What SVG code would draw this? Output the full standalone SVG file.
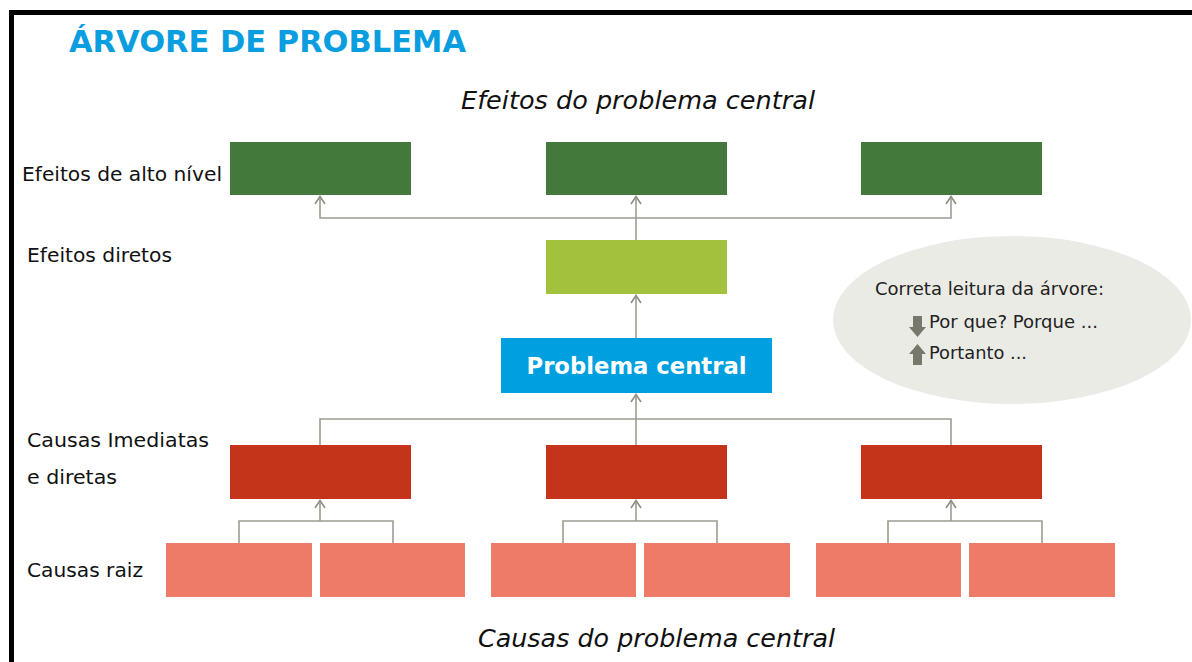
<svg xmlns="http://www.w3.org/2000/svg" width="1192" height="662" viewBox="0 0 1192 662">
<defs>
<style>
.lbl{font-family:"DejaVu Sans",Verdana,sans-serif;font-size:20px;fill:#111}
.it{font-family:"DejaVu Sans",Verdana,sans-serif;font-size:25px;font-style:italic;fill:#111}
.dg{fill:#437a3c}.lg{fill:#a2c13d}.rd{fill:#c4341a}.sa{fill:#ee7b67}
.con{fill:none;stroke:#9c9c90;stroke-width:1.6}
.note{font-family:"DejaVu Sans",Verdana,sans-serif;font-size:18px;fill:#222}
</style>
<marker id="ah" viewBox="0 0 12 12" refX="11" refY="6" markerWidth="12" markerHeight="12" markerUnits="userSpaceOnUse" orient="auto-start-reverse">
<path d="M3,1 L10.5,6 L3,11" fill="none" stroke="#8f8f83" stroke-width="1.6"/>
</marker>
</defs>
<rect x="0" y="0" width="1192" height="662" fill="#fff"/>
<g id="frame"><path d="M11.5,662 V12.5 H1192" fill="none" stroke="#000" stroke-width="5"/></g>
<text x="69" y="52" font-family="DejaVu Sans,Verdana,sans-serif" font-size="30" font-weight="bold" fill="#0a9ee0" textLength="397" lengthAdjust="spacingAndGlyphs">ÁRVORE DE PROBLEMA</text>
<text class="it" x="461" y="109" textLength="354" lengthAdjust="spacingAndGlyphs">Efeitos do problema central</text>
<text class="it" x="478" y="647" textLength="357" lengthAdjust="spacingAndGlyphs">Causas do problema central</text>
<g id="labels">
<text class="lbl" x="22" y="181" textLength="200" lengthAdjust="spacingAndGlyphs">Efeitos de alto nível</text>
<text class="lbl" x="27" y="262" textLength="145" lengthAdjust="spacingAndGlyphs">Efeitos diretos</text>
<text class="lbl" x="27" y="447" textLength="182" lengthAdjust="spacingAndGlyphs">Causas Imediatas</text>
<text class="lbl" x="27" y="484" textLength="90" lengthAdjust="spacingAndGlyphs">e diretas</text>
<text class="lbl" x="27" y="577" textLength="116" lengthAdjust="spacingAndGlyphs">Causas raiz</text>
</g>
<g id="connectors">
<path class="con" d="M636,240 V196" marker-end="url(#ah)"/>
<path class="con" d="M320,196 V218 H951 V196" marker-start="url(#ah)" marker-end="url(#ah)"/>
<path class="con" d="M636,338 V295" marker-end="url(#ah)"/>
<path class="con" d="M636,445 V394" marker-end="url(#ah)"/>
<path class="con" d="M320,445 V419 H951 V445"/>
<path class="con" d="M239,543 V521 H393 V543"/>
<path class="con" d="M320,521 V500" marker-end="url(#ah)"/>
<path class="con" d="M563,543 V521 H717 V543"/>
<path class="con" d="M636,521 V500" marker-end="url(#ah)"/>
<path class="con" d="M888,543 V521 H1042 V543"/>
<path class="con" d="M951,521 V500" marker-end="url(#ah)"/>
</g>
<g id="efeito-alto-1"><rect class="dg" x="230" y="142" width="181" height="53"/></g>
<g id="efeito-alto-2"><rect class="dg" x="546" y="142" width="181" height="53"/></g>
<g id="efeito-alto-3"><rect class="dg" x="861" y="142" width="181" height="53"/></g>
<g id="efeito-direto"><rect class="lg" x="546" y="240" width="181" height="54"/></g>
<g id="problema-central"><rect x="501" y="338" width="271" height="55" fill="#009fe0"/>
<text x="636.5" y="374" text-anchor="middle" font-family="DejaVu Sans,Verdana,sans-serif" font-size="23" font-weight="bold" fill="#fff" textLength="220" lengthAdjust="spacingAndGlyphs">Problema central</text></g>
<g id="causa-1"><rect class="rd" x="230" y="445" width="181" height="54"/></g>
<g id="causa-2"><rect class="rd" x="546" y="445" width="181" height="54"/></g>
<g id="causa-3"><rect class="rd" x="861" y="445" width="181" height="54"/></g>
<g id="raiz-1"><rect class="sa" x="166" y="543" width="146" height="54"/></g>
<g id="raiz-2"><rect class="sa" x="320" y="543" width="145" height="54"/></g>
<g id="raiz-3"><rect class="sa" x="491" y="543" width="145" height="54"/></g>
<g id="raiz-4"><rect class="sa" x="644" y="543" width="146" height="54"/></g>
<g id="raiz-5"><rect class="sa" x="816" y="543" width="145" height="54"/></g>
<g id="raiz-6"><rect class="sa" x="969" y="543" width="146" height="54"/></g>
<g id="leitura">
<ellipse cx="1012" cy="320" rx="179" ry="84" fill="#ebebe6"/>
<text class="note" x="875" y="295" textLength="229" lengthAdjust="spacingAndGlyphs">Correta leitura da árvore:</text>
<path d="M913,316 H922 V327 H926 L917.5,337 L909,327 H913 Z" fill="#77776b"/>
<text class="note" x="929" y="328" textLength="169" lengthAdjust="spacingAndGlyphs">Por que? Porque ...</text>
<path d="M913,365 H922 V354 H926 L917.5,344 L909,354 H913 Z" fill="#77776b"/>
<text class="note" x="929" y="359" textLength="98" lengthAdjust="spacingAndGlyphs">Portanto ...</text>
</g>
</svg>
